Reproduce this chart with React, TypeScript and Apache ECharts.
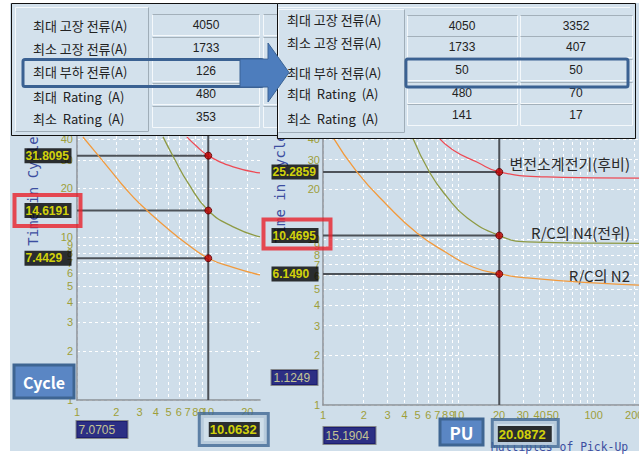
import React, { useEffect, useRef } from 'react';
import * as echarts from 'echarts';

// ---------------- data ----------------
const tableLabels = ['최대 고장 전류(A)', '최소 고장 전류(A)', '최대 부하 전류(A)', '최대  Rating  (A)', '최소  Rating  (A)'];
const leftTableValues = ['4050', '1733', '126', '480', '353'];
const rightTableValues1 = ['4050', '1733', '50', '480', '141'];
const rightTableValues2 = ['3352', '407', '50', '70', '17'];

// left chart (Cycle)
const leftXTicks = [1, 2, 3, 4, 5, 6, 7, 8, 9, 10, 20];
const leftXLabels = [1, 2, 3, 4, 5, 6, 7, 8, 9, 10, 20];
const leftYTicks = [1, 2, 3, 4, 5, 6, 7, 8, 9, 10, 20, 30, 40];
const leftXMax = 25;
const leftYMax = 42;
const leftMarkX = 10.0632;
const leftMarkY = [31.8095, 14.6191, 7.4429];
const leftCursorX = 7.0705;
const leftRed = [[6.9, 41.5], [8.2, 36.3], [10.0632, 31.8095], [15.6, 27.1], [25, 24.9]];
const leftGreen = [[4.54, 41.5], [5.61, 29.9], [7.05, 21.6], [10.0632, 14.6191], [15.6, 11.6], [25, 10.06]];
const leftOrange = [[1.11, 41.4], [1.42, 32.6], [1.79, 26], [2.33, 20.1], [3.03, 16.05], [4.87, 11.42], [6.92, 9.11], [10.0632, 7.4429], [15.55, 6.53], [25, 5.87]];

// right chart (PU)
const rightXTicks = [1, 2, 3, 4, 5, 6, 7, 8, 9, 10, 20, 30, 40, 50, 60, 70, 80, 90, 100, 200];
const rightXLabels = [1, 2, 3, 4, 5, 6, 7, 8, 9, 10, 20, 30, 40, 50, 100, 200];
const rightYTicks = [1, 2, 3, 4, 5, 6, 7, 8, 9, 10, 20, 30, 40];
const rightXMax = 250;
const rightYMax = 41.6;
const rightMarkX = 20.0872;
const rightMarkY = [25.2859, 10.4695, 6.149];
const rightCursorX = 15.1904;
const rightCursorY = 1.1249;
const rightRed = [[6.96, 41.5], [9.13, 34.3], [13.7, 29], [20.0872, 25.2859], [45, 23.6], [100, 23.3], [250, 23.2]];
const rightGreen = [[4.55, 41.5], [6.18, 24.9], [8.25, 17.9], [11.6, 13.4], [20.0872, 10.4695], [32.3, 9.58], [100, 9.42], [250, 9.4]];
const rightOrange = [[1.17, 41.5], [1.78, 25.3], [2.97, 16], [4.95, 10.85], [8.25, 8.22], [12.8, 6.77], [20.0872, 6.149], [32.3, 5.82], [100, 5.43], [250, 5.25]];
const curveNames = ['변전소계전기(후비)', 'R/C의 N4(전위)', 'R/C의 N2'];
const highlightIndex = 1;

// ---------------- styles ----------------
const BG = '#cfdeea';
const PANEL = '#d3e1ec';
const NUM = '"Liberation Sans Narrow","Arial Narrow","Liberation Sans",sans-serif';
const KR = '"Noto Sans CJK KR","Noto Sans",sans-serif';
const MONO = '"DejaVu Sans Mono","Liberation Mono",monospace';
const TICK_COLOR = '#9e9e3a';
const RED = '#ee4b55';
const GREEN = '#8e9a44';
const ORANGE = '#f29a3c';
const GUIDE = '#4d5258';
const NAVY = '#02026a';

const lg = (v: number) => Math.log10(v);
const toXY = (pts: number[][]) => pts.map(([x, y]) => [lg(x), lg(y)]);
const fmt = (v: number) => String(Math.round(Math.pow(10, v)));

function xAxisCfg(gi: number, max: number, ticks: number[], labels: number[], margin: number) {
  return {
    type: 'value', gridIndex: gi, min: 0, max: lg(max),
    axisLine: { show: true, onZero: false, lineStyle: { color: '#8c9197', width: 1.5 } },
    axisTick: { show: false, customValues: ticks.map(lg) },
    axisLabel: { show: true, customValues: labels.map(lg), formatter: fmt, color: TICK_COLOR, fontSize: 11, fontFamily: NUM, margin },
    splitLine: { show: true, lineStyle: { color: '#ffffff', type: [3, 3], width: 1 } },
  };
}
function yAxisCfg(gi: number, max: number, ticks: number[], margin: number) {
  return {
    type: 'value', gridIndex: gi, min: 0, max: lg(max),
    axisLine: { show: true, onZero: false, lineStyle: { color: '#8c9197', width: 1.5 } },
    axisTick: { show: false, customValues: ticks.map(lg) },
    axisLabel: { show: true, customValues: ticks.map(lg), formatter: fmt, color: TICK_COLOR, fontSize: 11, fontFamily: NUM, margin },
    splitLine: { show: true, lineStyle: { color: '#ffffff', type: [3, 3], width: 1 } },
  };
}

function curve(gi: number, pts: number[][], color: string) {
  return {
    type: 'line', xAxisIndex: gi, yAxisIndex: gi, data: toXY(pts), smooth: 0.5,
    symbol: 'none', lineStyle: { color, width: 1.3 }, z: 3, silent: true,
  };
}
function guide(gi: number, a: number[], b: number[]) {
  return {
    type: 'line', xAxisIndex: gi, yAxisIndex: gi, data: toXY([a, b]), symbol: 'none',
    lineStyle: { color: GUIDE, width: 2 }, z: 2, silent: true,
  };
}
function markers(gi: number, mx: number, ys: number[]) {
  return {
    type: 'scatter', xAxisIndex: gi, yAxisIndex: gi, data: toXY(ys.map((y) => [mx, y])),
    symbolSize: 7, itemStyle: { color: '#c00000', borderColor: '#5a0000', borderWidth: 1 }, z: 6, silent: true,
  };
}
function anchors(gi: number, items: any[], z: number) {
  return {
    type: 'scatter', xAxisIndex: gi, yAxisIndex: gi, symbolSize: 1,
    itemStyle: { color: 'rgba(0,0,0,0)' }, z, silent: true, data: items,
  };
}
function item(x: number, y: number, label: any) {
  return { value: [lg(x), lg(y)], label };
}
function boxLabel(text: string, position: string, offset: number[], w: number, h: number, bg: string, fg: string, fs: number, opts: any = {}) {
  const padL = opts.padL ?? 2;
  return {
    show: true, position, distance: 0, offset,
    formatter: '{t|' + text + '}',
    rich: {
      t: {
        width: w - padL, height: h, lineHeight: h, backgroundColor: bg, color: fg, fontSize: fs,
        fontFamily: NUM, fontWeight: opts.bold === false ? 'normal' : 'bold', align: 'left',
        padding: [0, 0, 0, padL], borderColor: opts.border, borderWidth: opts.bw ?? 0,
      },
    },
  };
}
const f4 = (v: number) => v.toFixed(4);

function buildSeries() {
  const s: any[] = [];
  // left
  s.push(curve(0, leftRed, RED), curve(0, leftGreen, GREEN), curve(0, leftOrange, ORANGE));
  s.push(guide(0, [leftMarkX, 1], [leftMarkX, leftYMax]));
  leftMarkY.forEach((v) => s.push(guide(0, [1, v], [leftMarkX, v])));
  s.push(markers(0, leftMarkX, leftMarkY));
  // right
  s.push(curve(1, rightRed, RED), curve(1, rightGreen, GREEN), curve(1, rightOrange, ORANGE));
  s.push(guide(1, [rightMarkX, 1], [rightMarkX, rightYMax]));
  rightMarkY.forEach((v) => s.push(guide(1, [1, v], [rightMarkX, v])));
  s.push(markers(1, rightMarkX, rightMarkY));

  // frames (below boxes)
  s.push(anchors(0, [
    item(1, leftMarkY[highlightIndex], boxLabel('\u00a0', 'left', [4, 0], 66, 31, 'transparent', 'transparent', 12, { border: '#e8202a', bw: 2, padL: 0 })),
    item(leftMarkX, 1, boxLabel('\u00a0', 'right', [-8, 29.5], 66, 29, BG, 'transparent', 12, { border: '#3f6694', bw: 3, padL: 0 })),
  ], 7));
  s.push(anchors(1, [
    item(1, rightMarkY[highlightIndex], boxLabel('\u00a0', 'left', [8, -1.5], 67, 29, 'transparent', 'transparent', 12, { border: '#e8202a', bw: 2, padL: 0 })),
    item(rightMarkX, 1, boxLabel('\u00a0', 'right', [-6, 28], 63, 24, BG, 'transparent', 12, { border: '#3f6694', bw: 3, padL: 0 })),
  ], 7));
  // value boxes
  s.push(anchors(0, [
    ...leftMarkY.map((v) => item(1, v, boxLabel(f4(v), 'left', [-5, 0], 47, 15, '#000', '#ffff00', 12, { padL: 1 }))),
    item(leftMarkX, 1, boxLabel(f4(leftMarkX), 'right', [0, 29.5], 51, 15, '#000', '#ffff00', 13, { padL: 1 })),
    item(1, 1, boxLabel(f4(leftCursorX), 'right', [-1, 29.5], 51, 17, NAVY, '#ecec98', 12, { bold: false, border: '#707070', bw: 1 })),
  ], 8));
  s.push(anchors(1, [
    ...rightMarkY.map((v) => item(1, v, boxLabel(f4(v), 'left', [-4, 0], 47, 15, '#000', '#ffff00', 12, { padL: 1 }))),
    item(rightMarkX, 1, boxLabel(f4(rightMarkX), 'right', [-2, 29], 54, 16, '#000', '#ffff00', 13, { padL: 1 })),
    item(1, 1, boxLabel(f4(rightCursorX), 'right', [0, 30.5], 52, 17, NAVY, '#ecec98', 12, { bold: false, border: '#707070', bw: 1 })),
    item(1, 1, boxLabel(f4(rightCursorY), 'left', [-5, -27.5], 46, 15, NAVY, '#ecec98', 12, { bold: false, border: '#707070', bw: 1 })),
  ], 8));
  return s;
}

function buildGraphics() {
  const els: any[] = [];
  const rect = (x: number, y: number, w: number, h: number, style: any, z: number, r = 0) =>
    ({ type: 'rect', shape: { x, y, width: w, height: h, r }, style, z, silent: true });
  const line = (x1: number, y1: number, x2: number, y2: number, stroke: string, z: number, lw = 1) =>
    ({ type: 'line', shape: { x1, y1, x2, y2 }, style: { stroke, lineWidth: lw }, z, silent: true });
  const text = (x: number, y: number, t: string, font: string, fill: string, z: number, align = 'left', rotation = 0) =>
    ({ type: 'text', x, y, rotation, style: { text: t, font, fill, align, verticalAlign: 'middle' }, z, silent: true });

  // axis titles and curve names (behind boxes)
  els.push(text(33, 191, 'Time in Cycle', `14px ${MONO}`, '#3c4ea0', 1, 'center', Math.PI / 2));
  els.push(text(280, 188, 'Time in Cycle', `14px ${MONO}`, '#3c4ea0', 1, 'center', Math.PI / 2));
  els.push(text(491, 447, 'Multiples of Pick-Up', `11.4px ${MONO}`, '#3c4ea0', 1));
  const nameYs = [163, 232, 275];
  curveNames.forEach((n, i) => els.push(text(630, nameYs[i], n, `15px ${KR}`, '#2a2a2a', 1, 'right')));

  // left table
  let Z = 20;
  els.push(rect(11.5, 3.5, 266, 132, { fill: PANEL, stroke: '#111', lineWidth: 1 }, Z));
  els.push(rect(15.5, 7.5, 133, 124, { fill: PANEL, stroke: '#f4f8fb', lineWidth: 1 }, Z + 1));
  els.push(line(15.5, 131.5, 148.5, 131.5, '#9fadb8', Z + 1), line(148.5, 7.5, 148.5, 131.5, '#9fadb8', Z + 1));
  const lLabelY = [25, 48, 71, 96, 118];
  tableLabels.forEach((t, i) => els.push(text(33, lLabelY[i], t, `13px ${KR}`, '#222', Z + 2)));
  const lTops = [14, 37, 60, 83, 106];
  [152, 263].forEach((cx, ci) => {
    lTops.forEach((top, i) => {
      els.push(rect(cx + 0.5, top + 0.5, 107, 21, { fill: PANEL, stroke: '#f4f8fb', lineWidth: 1 }, Z + 1));
      els.push(line(cx + 0.5, top + 0.5, cx + 107.5, top + 0.5, '#a3b0ba', Z + 1));
      if (ci === 0) els.push(text(cx + 54, top + 11, leftTableValues[i], `12px ${NUM}`, '#222', Z + 2, 'center'));
    });
  });

  // right table
  Z = 25;
  els.push(rect(277.5, 3.5, 358, 135, { fill: PANEL, stroke: '#111', lineWidth: 1 }, Z));
  els.push(line(278, 7.5, 630, 7.5, '#f4f8fb', Z + 1));
  els.push(rect(278.5, 9.5, 126, 123, { fill: PANEL, stroke: '#f4f8fb', lineWidth: 1 }, Z + 1));
  els.push(line(278.5, 132.5, 404.5, 132.5, '#9fadb8', Z + 1), line(404.5, 9.5, 404.5, 132.5, '#9fadb8', Z + 1));
  const rLabelY = [19, 42, 72, 93, 118];
  tableLabels.forEach((t, i) => els.push(text(287, rLabelY[i], t, `13px ${KR}`, '#222', Z + 2)));
  const rTops = [15, 36, 59, 82, 104];
  const rCols = [[407, 110, rightTableValues1], [520, 112, rightTableValues2]] as const;
  rCols.forEach(([cx, w, vals]) => {
    rTops.forEach((top, i) => {
      els.push(rect(cx + 0.5, top + 0.5, w, 21, { fill: PANEL, stroke: '#f4f8fb', lineWidth: 1 }, Z + 1));
      els.push(line(cx + 0.5, top + 0.5, cx + w + 0.5, top + 0.5, '#a3b0ba', Z + 1));
      els.push(text(cx + w / 2, top + 11, vals[i], `12px ${NUM}`, '#222', Z + 2, 'center'));
    });
  });

  // highlights and arrow
  els.push(rect(23, 59.5, 240, 27, { fill: 'none', stroke: '#3a6192', lineWidth: 3 }, 30, 2));
  els.push(rect(406, 59, 222, 28, { fill: 'none', stroke: '#3a6192', lineWidth: 3 }, 30, 2));
  els.push({
    type: 'polygon', shape: { points: [[240, 59], [268, 59], [268, 43], [289, 72.5], [268, 102], [268, 87], [240, 87]] },
    style: { fill: '#4d7dbd', stroke: '#3a6395', lineWidth: 1 }, z: 31, silent: true,
  });

  // buttons
  els.push(rect(14, 365, 60, 33, { fill: '#5a86c4', stroke: '#3e6592', lineWidth: 3 }, 20));
  els.push(text(44, 381.5, 'Cycle', `bold 16px ${KR}`, '#ffffff', 21, 'center'));
  els.push(rect(440, 419, 43, 26, { fill: '#5a86c4', stroke: '#3e6592', lineWidth: 3 }, 20));
  els.push(text(461.5, 432, 'PU', `bold 17px ${KR}`, '#ffffff', 21, 'center'));
  return els;
}

function buildOption() {
  return {
    animation: false,
    backgroundColor: 'transparent',
    grid: [
      { left: 77, top: 136, width: 183, height: 264 },
      { left: 323, top: 136, width: 324.4, height: 269 },
    ],
    xAxis: [
      xAxisCfg(0, leftXMax, leftXTicks, leftXLabels, 6),
      xAxisCfg(1, rightXMax, rightXTicks, rightXLabels, 4),
    ],
    yAxis: [
      yAxisCfg(0, leftYMax, leftYTicks, 4),
      yAxisCfg(1, rightYMax, rightYTicks, 3),
    ],
    series: buildSeries(),
    graphic: buildGraphics(),
  };
}

export default function App() {
  const ref = useRef<HTMLDivElement>(null);
  useEffect(() => {
    const chart = echarts.init(ref.current!, null, { renderer: 'svg' });
    chart.setOption(buildOption() as any);
    return () => chart.dispose();
  }, []);
  return (
    <div style={{ position: 'fixed', left: 0, top: 0, width: 639, height: 454, overflow: 'hidden', background: '#ffffff' }}>
      <div style={{ position: 'absolute', left: 10, top: 3, width: 629, height: 448, background: BG }} />
      <div ref={ref} style={{ position: 'absolute', left: 0, top: 0, width: 680, height: 454 }} />
    </div>
  );
}
